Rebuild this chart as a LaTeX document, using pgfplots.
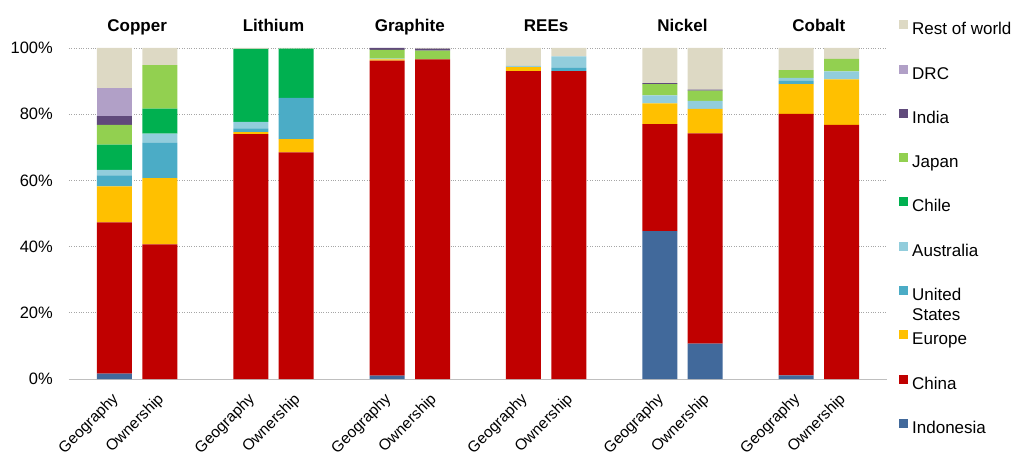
\documentclass[border=0pt]{standalone}
\usepackage{pgfplots}
\usepackage{pgfplotstable}
\pgfplotsset{compat=1.18}
\usepackage{fontspec}
\setmainfont{Liberation Sans}
\definecolor{cIndo}{HTML}{41699B}
\definecolor{cChina}{HTML}{C00000}
\definecolor{cEurope}{HTML}{FFC000}
\definecolor{cUS}{HTML}{4BACC6}
\definecolor{cAus}{HTML}{92CDDC}
\definecolor{cChile}{HTML}{00B050}
\definecolor{cJapan}{HTML}{92D050}
\definecolor{cIndia}{HTML}{604A7B}
\definecolor{cDRC}{HTML}{B1A0C7}
\definecolor{cRest}{HTML}{DDD9C4}
\pgfplotstableread{
x  Indonesia China Europe US   Australia Chile Japan India DRC Rest
1  1.6       45.7  10.9   3.3  1.7       7.6   6.0   2.6   8.4 12.2
2  0         40.7  20.0   10.6 2.8       7.6   13.1  0     0   5.2
4  0         74.0  0.6    1.1  2.0       22.0  0     0     0   0.3
5  0         68.5  4.0    12.4 0         14.9  0     0     0   0.2
7  1.0       95.2  0.4    0    0.2       0     2.6   0.6   0   0
8  0         96.6  0      0    0         0     2.6   0.6   0   0.2
10 0         93.0  1.2    0    0.4       0     0     0     0   5.4
11 0         93.0  0      1.0  3.5       0     0     0     0   2.5
13 44.7      32.3  6.3    0    2.4       0     3.4   0.3   0   10.6
14 10.7      63.5  7.4    0    2.4       0     3.1   0.3   0   12.6
16 1.1       79.0  9.0    1.0  0.9       0     2.3   0     0   6.7
17 0         76.8  13.7   0    2.4       0     3.8   0     0   3.3
}\data
\begin{document}
\begin{tikzpicture}[font=\fontsize{17}{20}\selectfont]
\useasboundingbox (-69pt,-73pt) rectangle (945pt,379pt);
\begin{axis}[
  at={(0pt,0pt)}, anchor=south west,
  scale only axis, width=818pt, height=331pt,
  ybar stacked, bar width=35pt,
  xmin=0, xmax=18, ymin=0, ymax=100,
  clip=false,
  axis x line*=bottom, axis y line*=left,
  x axis line style={gray!50, line width=1pt},
  y axis line style={draw=none},
  major tick length=0pt,
  xtick={1,2,4,5,7,8,10,11,13,14,16,17},
  xticklabels={Geography,Ownership,Geography,Ownership,Geography,Ownership,Geography,Ownership,Geography,Ownership,Geography,Ownership},
  xticklabel style={xshift=-3.5pt, yshift=-13pt, rotate=45, anchor=north east, inner sep=0pt, font=\fontsize{15.5}{18}\selectfont},
  ytick={0,20,40,60,80,100},
  yticklabels={0\%,20\%,40\%,60\%,80\%,100\%},
  yticklabel style={anchor=east, inner sep=0pt, xshift=-16pt, font=\fontsize{16.5}{20}\selectfont},
  ymajorgrids, grid style={dotted, gray!70, line width=0.8pt},
  every axis plot/.append style={draw=none},
  reverse legend,
  legend cell align=left,
  legend image code/.code={\fill[#1] (0pt,1pt) rectangle (9pt,10pt);},
  legend style={at={(1,1)}, anchor=north west, xshift=12pt, yshift=28pt,
    draw=none, fill=none, inner sep=0pt, row sep=26.3pt, column sep=4pt,
    nodes={inner sep=0pt, text height=12.5pt, text depth=3.5pt}},
]
\addplot[fill=cIndo] table[x=x,y=Indonesia]{\data};
\addplot[fill=cChina] table[x=x,y=China]{\data};
\addplot[fill=cEurope] table[x=x,y=Europe]{\data};
\addplot[fill=cUS] table[x=x,y=US]{\data};
\addplot[fill=cAus] table[x=x,y=Australia]{\data};
\addplot[fill=cChile] table[x=x,y=Chile]{\data};
\addplot[fill=cJapan] table[x=x,y=Japan]{\data};
\addplot[fill=cIndia] table[x=x,y=India]{\data};
\addplot[fill=cDRC] table[x=x,y=DRC]{\data};
\addplot[fill=cRest] table[x=x,y=Rest]{\data};
\legend{Indonesia,China,Europe,\vtop{\hbox{United}\hbox{States}},Australia,Chile,Japan,India,DRC,Rest of world}
\node[anchor=base, yshift=16pt, font=\fontsize{17}{20}\selectfont\bfseries] at (axis cs:1.5,100) {Copper};
\node[anchor=base, yshift=16pt, font=\fontsize{17}{20}\selectfont\bfseries] at (axis cs:4.5,100) {Lithium};
\node[anchor=base, yshift=16pt, font=\fontsize{17}{20}\selectfont\bfseries] at (axis cs:7.5,100) {Graphite};
\node[anchor=base, yshift=16pt, font=\fontsize{17}{20}\selectfont\bfseries] at (axis cs:10.5,100) {REEs};
\node[anchor=base, yshift=16pt, font=\fontsize{17}{20}\selectfont\bfseries] at (axis cs:13.5,100) {Nickel};
\node[anchor=base, yshift=16pt, font=\fontsize{17}{20}\selectfont\bfseries] at (axis cs:16.5,100) {Cobalt};
\end{axis}
\end{tikzpicture}
\end{document}
